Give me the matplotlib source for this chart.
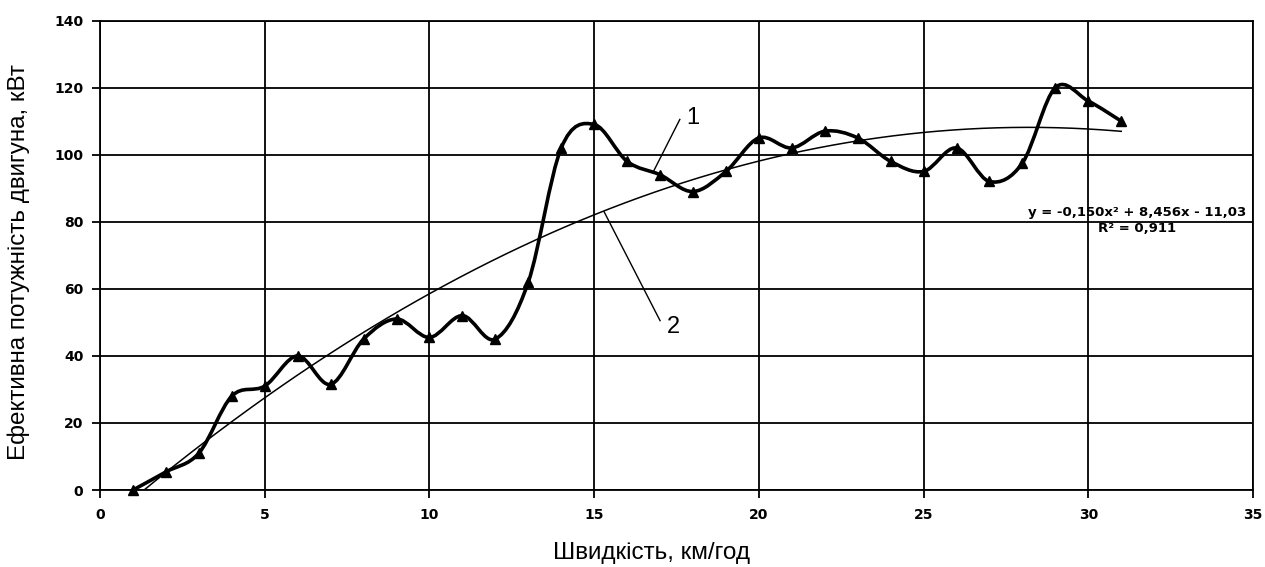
import matplotlib.pyplot as plt
import numpy as np
from matplotlib.path import Path
from matplotlib.patches import PathPatch

# speed, km/h and engine power, kW
speed = [1, 2, 3, 4, 5, 6, 7, 8, 9, 10, 11, 12, 13, 14, 15, 16,
         17, 18, 19, 20, 21, 22, 23, 24, 25, 26, 27, 28, 29, 30, 31]
power = [0, 5.4, 11, 28, 31, 40, 31.5, 45, 51, 45.5, 52, 45, 62, 102, 109, 98,
         94, 89, 95, 105, 102, 107, 105, 98, 95, 102, 92, 97.5, 120, 116, 110]

# trend line coefficients (from the chart label)
a2, a1, a0 = -0.150, 8.456, -11.03
eq_text = "y = -0,150x² + 8,456x - 11,03"
r2_text = "R² = 0,911"

xticks = [0, 5, 10, 15, 20, 25, 30, 35]
yticks = [0, 20, 40, 60, 80, 100, 120, 140]

fig = plt.figure(figsize=(12.65, 5.67), dpi=100)
ax = fig.add_axes([0.0791, 0.1358, 0.9114, 0.828])

# smoothed line like excel (bezier through points)
x = np.array(speed, dtype=float)
y = np.array(power, dtype=float)
verts = [(x[0], y[0])]
codes = [Path.MOVETO]
n = len(x)
for i in range(n - 1):
    x0, y0 = (x[i - 1], y[i - 1]) if i > 0 else (x[i], y[i])
    x3, y3 = (x[i + 2], y[i + 2]) if i + 2 < n else (x[i + 1], y[i + 1])
    c1 = (x[i] + (x[i + 1] - x0) / 6, y[i] + (y[i + 1] - y0) / 6)
    c2 = (x[i + 1] - (x3 - x[i]) / 6, y[i + 1] - (y3 - y[i]) / 6)
    verts += [c1, c2, (x[i + 1], y[i + 1])]
    codes += [Path.CURVE4, Path.CURVE4, Path.CURVE4]
ax.add_patch(PathPatch(Path(verts, codes), facecolor='none', edgecolor='black', lw=2.6, zorder=4))
ax.plot(speed, power, linestyle='none', marker='^', color='black', markersize=7, zorder=5, clip_on=False)

xt = np.linspace(speed[0], speed[-1], 200)
ax.plot(xt, a2 * xt**2 + a1 * xt + a0, color='black', lw=1.1, zorder=3)

ax.set_xlim(0, 35)
ax.set_ylim(0, 140)
ax.set_xticks(xticks)
ax.set_yticks(yticks)
ax.grid(True, color='black', lw=1.3)
ax.set_axisbelow(True)
for s in ax.spines.values():
    s.set_linewidth(1.3)
ax.tick_params(direction='out', length=6, width=1.3, labelsize=10)
ax.tick_params(axis='x', pad=7)
ax.tick_params(axis='y', pad=6)
for lab in ax.get_xticklabels() + ax.get_yticklabels():
    lab.set_fontweight('bold')

ax.set_xlabel('Швидкість, км/год', fontsize=17.5, family='Liberation Sans')
ax.set_ylabel('Ефективна потужність двигуна, кВт', fontsize=17.5, family='Liberation Sans')
ax.xaxis.set_label_coords(0.478, -0.111)
ax.yaxis.set_label_coords(-0.061, 0.485)

ax.text(31.48, 82.8, eq_text, fontsize=9.5, fontweight='bold', ha='center', va='center')
ax.text(31.48, 78.0, r2_text, fontsize=9.5, fontweight='bold', ha='center', va='center')

# leader lines with labels
ax.plot([17.6, 16.8], [110.5, 95], color='black', lw=1)
ax.text(17.8, 111, '1', fontsize=17, family='Liberation Sans', va='center')
ax.plot([15.3, 17.0], [83, 50.5], color='black', lw=1)
ax.text(17.2, 48.5, '2', fontsize=17, family='Liberation Sans', va='center')

plt.savefig('out.png', dpi=100)
